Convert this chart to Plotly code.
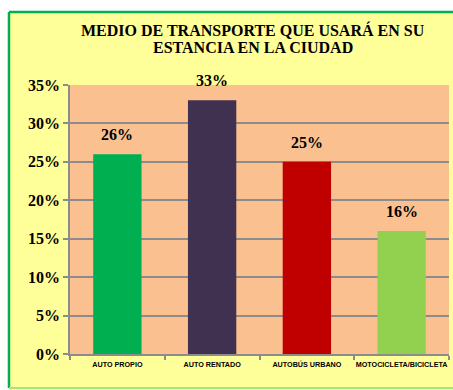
import plotly.graph_objects as go

categorias = ["AUTO PROPIO", "AUTO RENTADO", "AUTOBÚS URBANO", "MOTOCICLETA/BICICLETA"]
porcentajes = [26, 33, 25, 16]
colores = ["#00B050", "#403151", "#C00000", "#92D050"]
ticks_y = [0, 5, 10, 15, 20, 25, 30, 35]
etiquetas_y = [f"{v}%" for v in ticks_y]
titulo = ["MEDIO DE TRANSPORTE QUE USARÁ EN SU", "ESTANCIA EN LA CIUDAD"]

serif = "Liberation Serif, Times New Roman, serif"

fig = go.Figure()
fig.add_trace(go.Bar(
    x=categorias, y=porcentajes,
    marker=dict(color=colores, line=dict(width=0)),
    width=0.51, showlegend=False,
))

# value labels above each bar
for c, v in zip(categorias, porcentajes):
    fig.add_annotation(x=c, y=v, text=f"<b>{v}%</b>", showarrow=False,
                       yanchor="bottom", yshift=9,
                       font=dict(family=serif, size=16, color="#000000"))

# two-line title
for i, linea in enumerate(titulo):
    fig.add_annotation(x=0.483, y=1.205 - i * 0.064, xref="paper", yref="paper",
                       text=f"<b>{linea}</b>", showarrow=False,
                       xanchor="center", yanchor="middle",
                       font=dict(family=serif, size=16, color="#000000"))

# white surround outside the chart frame, then the frame edges
fig.add_shape(type="rect", xref="paper", yref="paper",
              x0=-0.3, x1=1.1, y0=1.271, y1=1.4,
              fillcolor="#FFFFFF", line=dict(width=0), layer="below")
fig.add_shape(type="rect", xref="paper", yref="paper",
              x0=-0.3, x1=-0.161, y0=-0.2, y1=1.4,
              fillcolor="#FFFFFF", line=dict(width=0), layer="below")
fig.add_shape(type="line", xref="paper", yref="paper",
              x0=-0.161, x1=1.03, y0=1.271, y1=1.271,
              line=dict(color="#00B050", width=2.5), layer="below")
fig.add_shape(type="line", xref="paper", yref="paper",
              x0=-0.161, x1=-0.161, y0=-0.126, y1=1.271,
              line=dict(color="#00B050", width=2.5), layer="below")
fig.add_shape(type="line", xref="paper", yref="paper",
              x0=-0.161, x1=1.03, y0=-0.126, y1=-0.126,
              line=dict(color="#A8E08A", width=2), layer="below")

fig.update_layout(
    width=453, height=390,
    margin=dict(l=70, r=4, t=85, b=36, autoexpand=False),
    paper_bgcolor="#FFFF99",
    plot_bgcolor="#FAC090",
    bargap=0.49,
)
fig.update_yaxes(range=[0, 35], tickvals=ticks_y, ticktext=etiquetas_y,
                 showgrid=True, gridcolor="#8C8C8C", gridwidth=1.5,
                 showline=True, linecolor="#8C8C8C", linewidth=1.5,
                 ticks="outside", ticklen=5, tickcolor="#8C8C8C", tickwidth=1.5,
                 tickfont=dict(family=serif, size=16, color="#000000", weight="bold"),
                 zeroline=False, automargin=False)
fig.update_xaxes(showline=True, linecolor="#8C8C8C", linewidth=1.5,
                 ticks="outside", tickson="boundaries", ticklen=4,
                 tickcolor="#8C8C8C", tickwidth=1.5, tickangle=0,
                 ticklabelstandoff=3,
                 tickfont=dict(family="Liberation Sans Narrow, Arial Narrow, sans-serif",
                               size=7.2, color="#000000", weight="bold"),
                 automargin=False)

fig.write_html("out.html")
